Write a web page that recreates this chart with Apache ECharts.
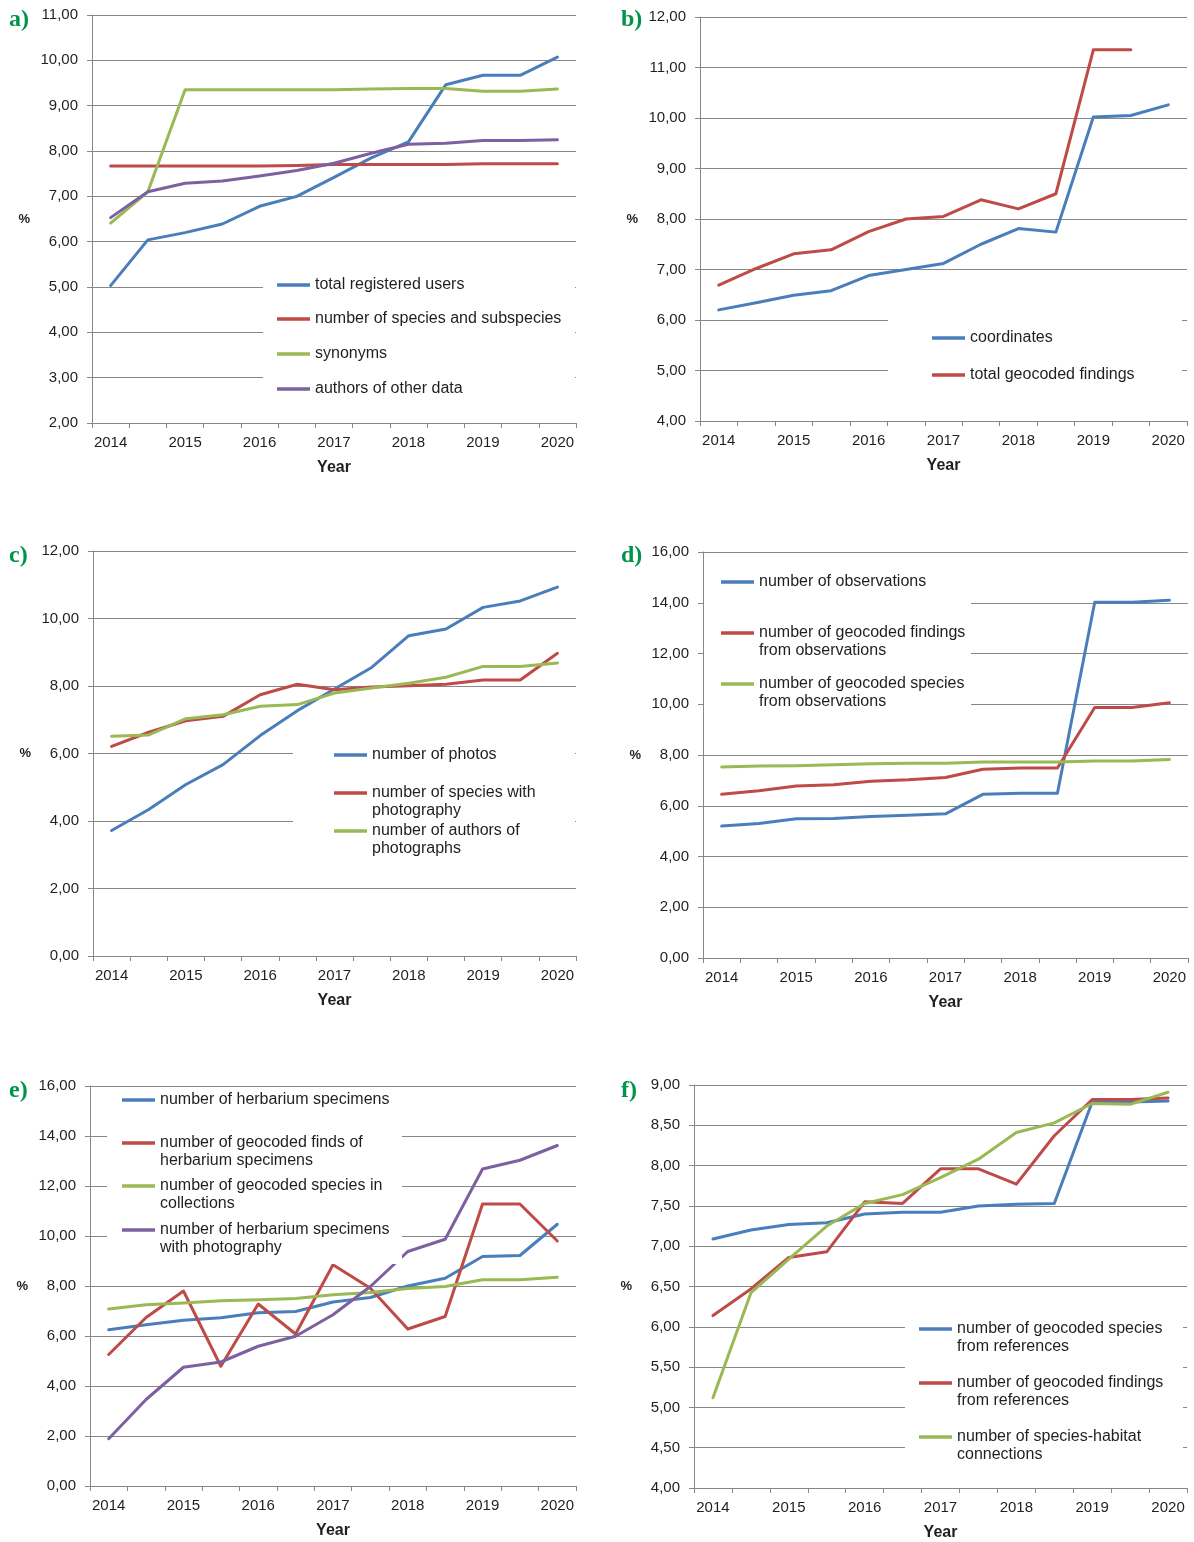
<!DOCTYPE html>
<html>
<head>
<meta charset="utf-8">
<script src="https://cdn.jsdelivr.net/npm/echarts@6/dist/echarts.min.js"></script>
<style>
html,body{margin:0;padding:0;background:#ffffff;}
#chart{width:1194px;height:1542px;}
</style>
</head>
<body>
<div id="chart"></div>
<script>
// ---------- data ----------
const categories = ['2014','2014.5','2015','2015.5','2016','2016.5','2017','2017.5','2018','2018.5','2019','2019.5','2020'];

// a)
const aUsers    = [5.03, 6.04, 6.20, 6.39, 6.78, 7.00, 7.42, 7.85, 8.20, 9.46, 9.67, 9.67, 10.07];
const aSpecies  = [7.67, 7.67, 7.67, 7.67, 7.67, 7.68, 7.70, 7.70, 7.70, 7.70, 7.72, 7.72, 7.72];
const aSynonyms = [6.41, 7.10, 9.35, 9.35, 9.35, 9.35, 9.35, 9.37, 9.38, 9.38, 9.32, 9.32, 9.37];
const aAuthors  = [6.53, 7.10, 7.29, 7.34, 7.45, 7.57, 7.73, 7.95, 8.15, 8.17, 8.23, 8.23, 8.25];

// b)
const bCoordinates = [6.20, 6.34, 6.49, 6.58, 6.88, 7.00, 7.12, 7.50, 7.81, 7.74, 10.02, 10.05, 10.26];
const bFindings    = [6.69, 7.02, 7.31, 7.39, 7.75, 8.00, 8.05, 8.38, 8.20, 8.50, 11.35, 11.35, null];

// c)
const cPhotos       = [3.72, 4.34, 5.08, 5.67, 6.53, 7.27, 7.91, 8.55, 9.49, 9.69, 10.33, 10.52, 10.93];
const cSpeciesPhoto = [6.21, 6.63, 6.97, 7.10, 7.74, 8.05, 7.89, 7.97, 8.01, 8.05, 8.18, 8.18, 8.97];
const cAuthorsPhoto = [6.51, 6.55, 7.03, 7.15, 7.40, 7.45, 7.79, 7.94, 8.08, 8.26, 8.58, 8.58, 8.68];

// d)
const dObservations = [5.20, 5.30, 5.49, 5.50, 5.58, 5.63, 5.68, 6.45, 6.49, 6.49, 14.02, 14.02, 14.10];
const dFindingsObs  = [6.45, 6.59, 6.78, 6.83, 6.97, 7.02, 7.11, 7.44, 7.49, 7.49, 9.87, 9.87, 10.06];
const dSpeciesObs   = [7.53, 7.57, 7.58, 7.62, 7.66, 7.67, 7.67, 7.72, 7.72, 7.72, 7.76, 7.76, 7.82];

// e)
const eHerbarium     = [6.25, 6.45, 6.63, 6.73, 6.93, 6.98, 7.36, 7.54, 8.00, 8.31, 9.18, 9.22, 10.47];
const eFindsHerb     = [5.26, 6.74, 7.80, 4.79, 7.28, 6.08, 8.85, 7.91, 6.28, 6.78, 11.28, 11.28, 9.80];
const eSpeciesColl   = [7.08, 7.25, 7.32, 7.41, 7.45, 7.50, 7.65, 7.74, 7.90, 7.98, 8.25, 8.25, 8.35];
const eHerbPhoto     = [1.89, 3.46, 4.75, 4.96, 5.59, 5.99, 6.85, 7.98, 9.38, 9.87, 12.68, 13.03, 13.62];

// f)
const fSpeciesRef  = [7.09, 7.20, 7.27, 7.29, 7.40, 7.42, 7.42, 7.50, 7.52, 7.53, 8.79, 8.79, 8.80];
const fFindingsRef = [6.14, 6.47, 6.86, 6.93, 7.55, 7.53, 7.96, 7.96, 7.77, 8.37, 8.82, 8.82, 8.84];
const fHabitat     = [5.12, 6.42, 6.84, 7.25, 7.53, 7.64, 7.85, 8.08, 8.41, 8.53, 8.77, 8.76, 8.91];

// ---------- styling ----------
const BLUE = '#4A7EBB', RED = '#BE4B48', GREEN = '#98B954', PURPLE = '#7D60A0';
const GRIDC = '#878787';
const TXT = '#1f1f1f';
const FONT = '"Liberation Sans", Arial, sans-serif';
const LETTERC = '#00934a';

const panels = [
  { letter: 'a)', letterPos: [9, 8],
    grid: {left: 92, top: 15, width: 484, height: 408},
    y: {min: 2, max: 11, interval: 1},
    series: [
      {name: 'total registered users', label: 'total registered users', data: aUsers, color: BLUE},
      {name: 'number of species and subspecies', label: 'number of species and subspecies', data: aSpecies, color: RED},
      {name: 'synonyms', label: 'synonyms', data: aSynonyms, color: GREEN},
      {name: 'authors of other data', label: 'authors of other data', data: aAuthors, color: PURPLE}
    ],
    legendX: 277, legendRows: [285, 319, 354, 389], box: [263, 255, 575, 410] },
  { letter: 'b)', letterPos: [621, 8],
    grid: {left: 700, top: 17, width: 487, height: 404},
    y: {min: 4, max: 12, interval: 1},
    series: [
      {name: 'coordinates', label: 'coordinates', data: bCoordinates, color: BLUE},
      {name: 'total geocoded findings', label: 'total geocoded findings', data: bFindings, color: RED}
    ],
    legendX: 932, legendRows: [338, 375], box: [888, 305, 1182, 410] },
  { letter: 'c)', letterPos: [9, 544],
    grid: {left: 93, top: 551, width: 483, height: 405},
    y: {min: 0, max: 12, interval: 2},
    series: [
      {name: 'number of photos', label: 'number of photos', data: cPhotos, color: BLUE},
      {name: 'number of species with photography', label: 'number of species with\nphotography', data: cSpeciesPhoto, color: RED},
      {name: 'number of authors of photographs', label: 'number of authors of\nphotographs', data: cAuthorsPhoto, color: GREEN}
    ],
    legendX: 334, legendRows: [755, 793, 831], box: [293, 728, 575, 872] },
  { letter: 'd)', letterPos: [621, 544],
    grid: {left: 703, top: 552, width: 485, height: 406},
    y: {min: 0, max: 16, interval: 2},
    series: [
      {name: 'number of observations', label: 'number of observations', data: dObservations, color: BLUE},
      {name: 'number of geocoded findings from observations', label: 'number of geocoded findings\nfrom observations', data: dFindingsObs, color: RED},
      {name: 'number of geocoded species from observations', label: 'number of geocoded species\nfrom observations', data: dSpeciesObs, color: GREEN}
    ],
    legendX: 721, legendRows: [582, 633, 684], box: [704, 560, 971, 722] },
  { letter: 'e)', letterPos: [9, 1079],
    grid: {left: 90, top: 1086, width: 486, height: 400},
    y: {min: 0, max: 16, interval: 2},
    series: [
      {name: 'number of herbarium specimens', label: 'number of herbarium specimens', data: eHerbarium, color: BLUE},
      {name: 'number of geocoded finds of herbarium specimens', label: 'number of geocoded finds of\nherbarium specimens', data: eFindsHerb, color: RED},
      {name: 'number of geocoded species in collections', label: 'number of geocoded species in\ncollections', data: eSpeciesColl, color: GREEN},
      {name: 'number of herbarium specimens with photography', label: 'number of herbarium specimens\nwith photography', data: eHerbPhoto, color: PURPLE}
    ],
    legendX: 122, legendRows: [1100, 1143, 1186, 1230], box: [107, 1089, 402, 1264] },
  { letter: 'f)', letterPos: [621, 1079],
    grid: {left: 694, top: 1085, width: 493, height: 405},
    y: {min: 4, max: 9, interval: 0.5},
    series: [
      {name: 'number of geocoded species from references', label: 'number of geocoded species\nfrom references', data: fSpeciesRef, color: BLUE},
      {name: 'number of geocoded findings from references', label: 'number of geocoded findings\nfrom references', data: fFindingsRef, color: RED},
      {name: 'number of species-habitat connections', label: 'number of species-habitat\nconnections', data: fHabitat, color: GREEN}
    ],
    legendX: 919, legendRows: [1329, 1383, 1437], box: [905, 1300, 1183, 1476] }
];

// ---------- build option ----------
const LH = 18;
const option = {
  backgroundColor: '#ffffff',
  animation: false,
  title: [], grid: [], xAxis: [], yAxis: [], series: [], legend: [],
  graphic: { elements: [] }
};

panels.forEach((p, i) => {
  option.title.push({
    text: p.letter, left: p.letterPos[0], top: p.letterPos[1], padding: 0,
    textStyle: {fontFamily: '"Liberation Serif", "DejaVu Serif", serif', fontWeight: 'bold', fontSize: 24, color: LETTERC}
  });
  option.grid.push(Object.assign({containLabel: false}, p.grid));
  option.xAxis.push({
    gridIndex: i, type: 'category', data: categories, boundaryGap: true,
    name: 'Year', nameLocation: 'middle', nameGap: 37,
    nameTextStyle: {fontFamily: FONT, fontWeight: 'bold', fontSize: 16, color: TXT},
    axisLine: {show: true, lineStyle: {color: GRIDC, width: 1}},
    axisTick: {show: true, interval: 0, length: 5, inside: false, lineStyle: {color: GRIDC}},
    axisLabel: {interval: 1, margin: 12, fontFamily: FONT, fontSize: 15, color: TXT},
    splitLine: {show: false}
  });
  option.yAxis.push({
    gridIndex: i, type: 'value', min: p.y.min, max: p.y.max, interval: p.y.interval,
    name: '%', nameLocation: 'middle', nameRotate: 0, nameGap: 62,
    nameTextStyle: {fontFamily: FONT, fontWeight: 'bold', fontSize: 13, color: TXT},
    axisLine: {show: true, lineStyle: {color: GRIDC, width: 1}},
    axisTick: {show: true, length: 5, inside: false, lineStyle: {color: GRIDC}},
    axisLabel: {margin: 14, fontFamily: FONT, fontSize: 15, color: TXT,
      formatter: v => v.toFixed(2).replace('.', ',')},
    splitLine: {show: true, lineStyle: {color: GRIDC, width: 1}}
  });
  // white legend box (covers gridlines like the original)
  const b = p.box;
  option.graphic.elements.push({
    type: 'rect', z: 5, silent: true,
    shape: {x: b[0], y: b[1], width: b[2] - b[0], height: b[3] - b[1]},
    style: {fill: '#ffffff'}
  });
  p.series.forEach((s, k) => {
    option.series.push({
      type: 'line', name: s.name, xAxisIndex: i, yAxisIndex: i, data: s.data,
      symbol: 'none', showSymbol: false, connectNulls: false, z: 2,
      itemStyle: {color: s.color},
      lineStyle: {color: s.color, width: 3, cap: 'round', join: 'round'}
    });
    const twoLines = s.label.indexOf('\n') >= 0;
    // for wrapped names a leading empty line keeps the marker level with the first text line
    const shown = twoLines ? '\n' + s.label : s.label;
    option.legend.push({
      data: [s.name], orient: 'vertical', selectedMode: false, z: 10, padding: 0,
      left: p.legendX, top: p.legendRows[k] - (twoLines ? 1.5 * LH : LH / 2),
      icon: 'rect', itemWidth: 33, itemHeight: 3.5,
      itemStyle: {borderWidth: 0},
      formatter: () => shown,
      textStyle: {fontFamily: FONT, fontSize: 16, color: TXT, lineHeight: LH}
    });
  });
});

const chart = echarts.init(document.getElementById('chart'), null, {renderer: 'canvas'});
chart.setOption(option);
</script>
</body>
</html>
